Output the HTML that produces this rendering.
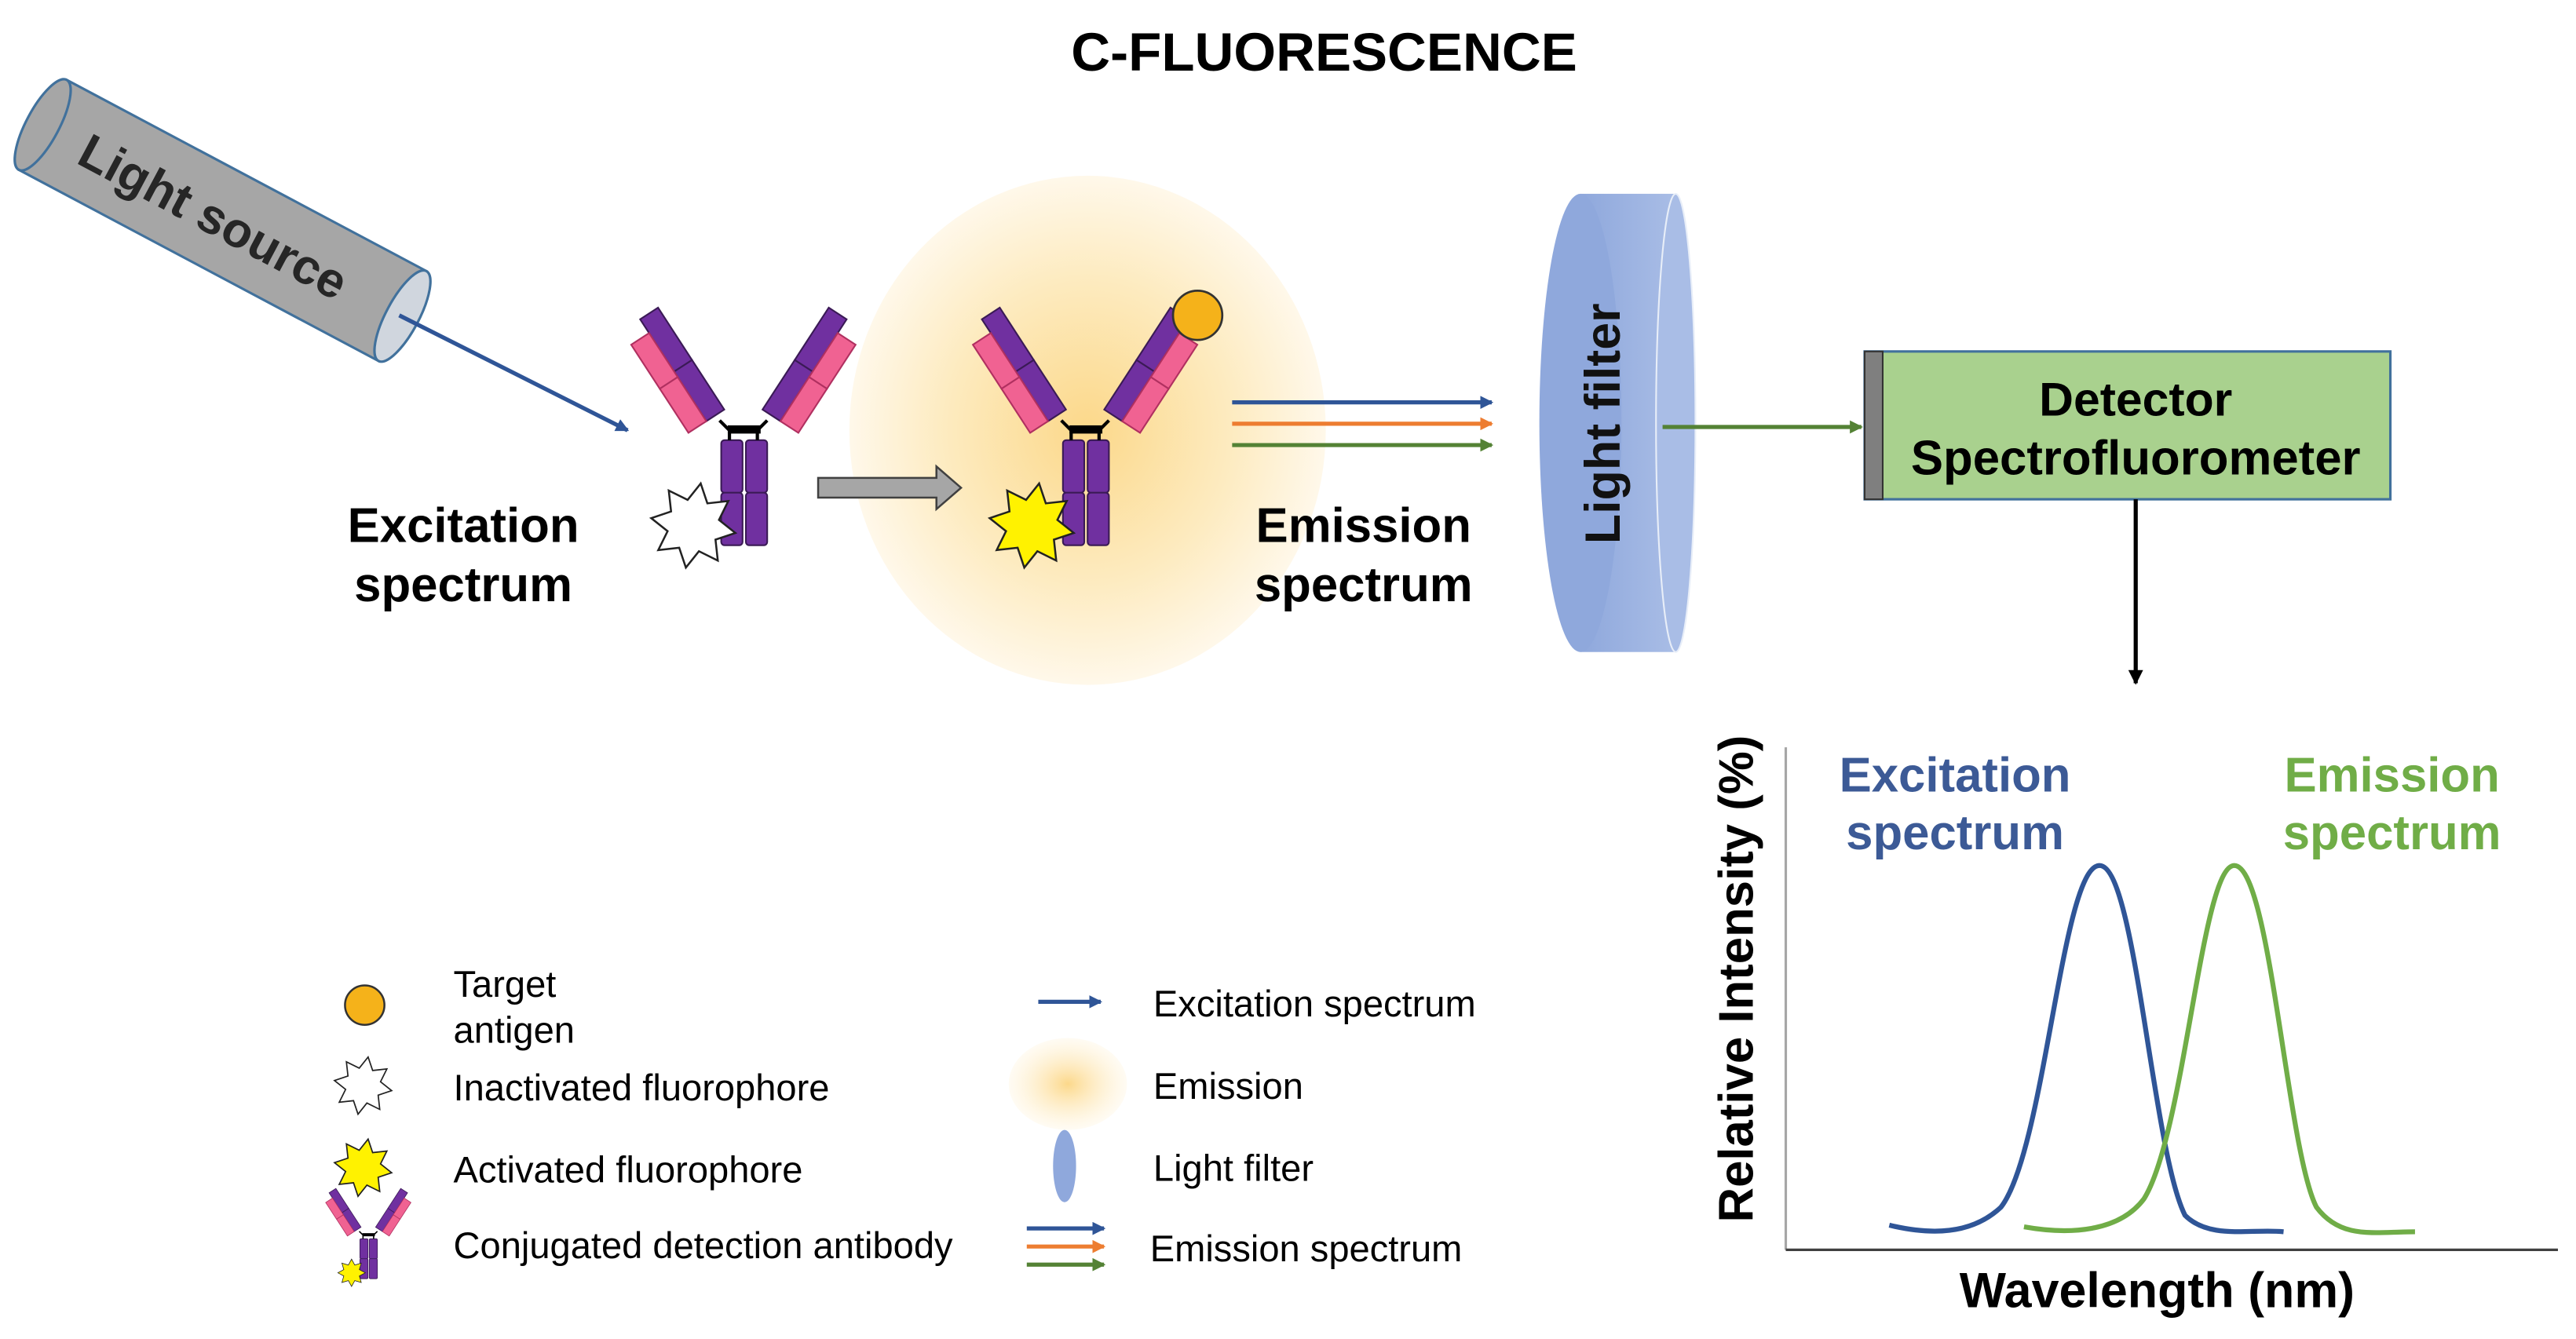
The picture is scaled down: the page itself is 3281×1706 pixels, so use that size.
<!DOCTYPE html>
<html><head><meta charset="utf-8"><style>html,body{margin:0;padding:0;background:#fff}svg{display:block}text{font-family:"Liberation Sans",Arial,sans-serif}</style></head>
<body>
<svg width="3281" height="1706" viewBox="0 0 1568 815.3" xmlns="http://www.w3.org/2000/svg">
<defs>
<radialGradient id="glow" cx="0.5" cy="0.5" r="0.5">
<stop offset="0" stop-color="#fcd88a"/><stop offset="0.6" stop-color="#fdebc0"/><stop offset="1" stop-color="#fff8ea"/>
</radialGradient>
<radialGradient id="glow2" cx="0.5" cy="0.5" r="0.5">
<stop offset="0" stop-color="#fcd88a"/><stop offset="1" stop-color="#fff3d8" stop-opacity="0.3"/>
</radialGradient>
<linearGradient id="filt" x1="0" y1="0" x2="1" y2="0">
<stop offset="0" stop-color="#8fa8dc"/><stop offset="1" stop-color="#a9bde6"/>
</linearGradient>
<marker id="ab" markerWidth="8" markerHeight="8" refX="7" refY="4" orient="auto" markerUnits="userSpaceOnUse"><path d="M0,0 L8,4 L0,8z" fill="#2f5597"/></marker>
<marker id="ao" markerWidth="8" markerHeight="8" refX="7" refY="4" orient="auto" markerUnits="userSpaceOnUse"><path d="M0,0 L8,4 L0,8z" fill="#ed7d31"/></marker>
<marker id="ag" markerWidth="8" markerHeight="8" refX="7" refY="4" orient="auto" markerUnits="userSpaceOnUse"><path d="M0,0 L8,4 L0,8z" fill="#548235"/></marker>
<marker id="ak" markerWidth="9" markerHeight="9" refX="8" refY="4.5" orient="auto" markerUnits="userSpaceOnUse"><path d="M0,0 L9,4.5 L0,9z" fill="#000"/></marker>
<g id="arm">
<rect x="-7" y="-78" width="13" height="38" fill="#7030a0" stroke="#3a1a55" stroke-width="1"/>
<rect x="-7" y="-40" width="13" height="36" fill="#7030a0" stroke="#3a1a55" stroke-width="1"/>
<rect x="-20" y="-68" width="13" height="32" fill="#f06292" stroke="#b03060" stroke-width="1"/>
<rect x="-20" y="-36" width="13" height="32" fill="#f06292" stroke="#b03060" stroke-width="1"/>
</g>
<g id="ab1">
<rect x="-13" y="6" width="13" height="32" rx="2" fill="#7030a0" stroke="#3a1a55"/>
<rect x="-13" y="38" width="13" height="32" rx="2" fill="#7030a0" stroke="#3a1a55"/>
<rect x="2" y="6" width="13" height="32" rx="2" fill="#7030a0" stroke="#3a1a55"/>
<rect x="2" y="38" width="13" height="32" rx="2" fill="#7030a0" stroke="#3a1a55"/>
<rect x="-9" y="-3" width="20" height="5" fill="#000"/>
<path d="M-8,6 L-8,0 L-14,-6 M9,6 L9,0 L15,-6" stroke="#000" stroke-width="2" fill="none"/>
<use href="#arm" transform="translate(-14,-6) rotate(-33)"/>
<use href="#arm" transform="translate(15,-6) scale(-1,1) rotate(-33)"/>
</g>
<polygon id="star" points="26,0 14.8,6.1 18.4,18.4 6.1,14.8 0,26 -6.1,14.8 -18.4,18.4 -14.8,6.1 -26,0 -14.8,-6.1 -18.4,-18.4 -6.1,-14.8 0,-26 6.1,-14.8 18.4,-18.4 14.8,-6.1" stroke="#222" stroke-width="1.2"/>
</defs>

<text x="806" y="43" font-size="33" font-weight="bold" text-anchor="middle">C-FLUORESCENCE</text>

<g transform="translate(26,76) rotate(28)">
<rect x="0" y="-31" width="248" height="62" fill="#a6a6a6" stroke="#41719c" stroke-width="1.5"/>
<ellipse cx="0" cy="0" rx="10" ry="31" fill="#a6a6a6" stroke="#41719c" stroke-width="1.5"/>
<ellipse cx="248" cy="0" rx="10" ry="31" fill="#d0d6de" stroke="#41719c" stroke-width="1.5"/>
<text x="118" y="11" font-size="30" font-weight="bold" fill="#262626" text-anchor="middle">Light source</text>
</g>
<line x1="243" y1="192" x2="382" y2="262" stroke="#2f5597" stroke-width="2.5" marker-end="url(#ab)"/>

<ellipse cx="662" cy="262" rx="145" ry="155" fill="url(#glow)"/>

<use href="#ab1" transform="translate(452,262)"/>
<use href="#star" fill="#fff" transform="translate(422,320) rotate(10)"/>
<text x="282" y="330" font-size="29.5" font-weight="bold" text-anchor="middle">Excitation</text>
<text x="282" y="366" font-size="29.5" font-weight="bold" text-anchor="middle">spectrum</text>

<path d="M498,291 L570,291 L570,284 L585,297 L570,310 L570,303 L498,303 Z" fill="#a6a6a6" stroke="#404040" stroke-width="1.2"/>

<use href="#ab1" transform="translate(660,262)"/>
<circle cx="729" cy="192" r="15" fill="#f5b21a" stroke="#333" stroke-width="1.3"/>
<use href="#star" fill="#fff200" transform="translate(628,320) rotate(10)"/>

<line x1="750" y1="245" x2="908" y2="245" stroke="#2f5597" stroke-width="2.5" marker-end="url(#ab)"/>
<line x1="750" y1="258" x2="908" y2="258" stroke="#ed7d31" stroke-width="2.5" marker-end="url(#ao)"/>
<line x1="750" y1="271" x2="908" y2="271" stroke="#548235" stroke-width="2.5" marker-end="url(#ag)"/>
<text x="830" y="330" font-size="29.5" font-weight="bold" text-anchor="middle">Emission</text>
<text x="830" y="366" font-size="29.5" font-weight="bold" text-anchor="middle">spectrum</text>

<rect x="962" y="118" width="58" height="279" fill="url(#filt)"/>
<ellipse cx="962" cy="257.5" rx="25" ry="139.5" fill="#8fa8dc"/>
<ellipse cx="1020" cy="257.5" rx="12" ry="139.5" fill="#a9bde6" stroke="#e8eef8" stroke-width="1"/>
<text transform="translate(986,258) rotate(-90)" font-size="30" font-weight="bold" text-anchor="middle" fill="#111">Light filter</text>
<line x1="1012" y1="260" x2="1133" y2="260" stroke="#548235" stroke-width="2.5" marker-end="url(#ag)"/>

<rect x="1135" y="214" width="320" height="90" fill="#a9d18e" stroke="#41719c" stroke-width="1.5"/>
<rect x="1135" y="214" width="11" height="90" fill="#7f7f7f" stroke="#333" stroke-width="1"/>
<text x="1300" y="253" font-size="29" font-weight="bold" text-anchor="middle">Detector</text>
<text x="1300" y="289" font-size="29.5" font-weight="bold" text-anchor="middle">Spectrofluorometer</text>
<line x1="1300" y1="304" x2="1300" y2="416" stroke="#000" stroke-width="2.5" marker-end="url(#ak)"/>

<line x1="1087" y1="455" x2="1087" y2="761" stroke="#a6a6a6" stroke-width="1.5"/>
<line x1="1087" y1="761" x2="1557" y2="761" stroke="#404040" stroke-width="1.5"/>
<text transform="translate(1067,596) rotate(-90)" font-size="29.5" font-weight="bold" text-anchor="middle">Relative Intensity (%)</text>
<text x="1313" y="796" font-size="30" font-weight="bold" text-anchor="middle">Wavelength (nm)</text>
<text x="1190" y="482" font-size="29.5" font-weight="bold" fill="#3c5a96" text-anchor="middle">Excitation</text>
<text x="1190" y="517" font-size="29.5" font-weight="bold" fill="#3c5a96" text-anchor="middle">spectrum</text>
<text x="1456" y="482" font-size="29.5" font-weight="bold" fill="#70ad47" text-anchor="middle">Emission</text>
<text x="1456" y="517" font-size="29.5" font-weight="bold" fill="#70ad47" text-anchor="middle">spectrum</text>
<path d="M1150,746 C1175,752 1200,752 1218,735 C1245,700 1255,527 1278,527 C1300,527 1310,700 1330,740 C1345,755 1370,748 1390,750" fill="none" stroke="#2f5597" stroke-width="3"/>
<path d="M1232,747 C1260,752 1290,750 1305,730 C1330,690 1340,527 1360,527 C1382,527 1392,700 1410,735 C1425,755 1445,750 1470,750" fill="none" stroke="#70ad47" stroke-width="3"/>

<circle cx="222" cy="612" r="12" fill="#f5b21a" stroke="#333" stroke-width="1.2"/>
<text x="276" y="607" font-size="22.5">Target</text>
<text x="276" y="635" font-size="22.5">antigen</text>
<use href="#star" fill="#fff" transform="translate(221,661) scale(0.68) rotate(10)"/>
<text x="276" y="670" font-size="22.5">Inactivated fluorophore</text>
<use href="#star" fill="#fff200" transform="translate(221,711) scale(0.68) rotate(10)"/>
<text x="276" y="720" font-size="22.5">Activated fluorophore</text>
<use href="#ab1" transform="translate(224,752) scale(0.38)"/>
<use href="#star" fill="#fff200" transform="translate(214,775) scale(0.32)"/>
<text x="276" y="766" font-size="22.5">Conjugated detection antibody</text>

<line x1="632" y1="610" x2="670" y2="610" stroke="#2f5597" stroke-width="2.5" marker-end="url(#ab)"/>
<text x="702" y="619" font-size="22.5">Excitation spectrum</text>
<ellipse cx="650" cy="660" rx="36" ry="28" fill="url(#glow2)"/>
<text x="702" y="669" font-size="22.5">Emission</text>
<ellipse cx="648" cy="710" rx="7" ry="22" fill="#8fa8dc"/>
<text x="702" y="719" font-size="22.5">Light filter</text>
<line x1="625" y1="748" x2="672" y2="748" stroke="#2f5597" stroke-width="2.5" marker-end="url(#ab)"/>
<line x1="625" y1="759" x2="672" y2="759" stroke="#ed7d31" stroke-width="2.5" marker-end="url(#ao)"/>
<line x1="625" y1="770" x2="672" y2="770" stroke="#548235" stroke-width="2.5" marker-end="url(#ag)"/>
<text x="700" y="768" font-size="22.5">Emission spectrum</text>
</svg>
</body></html>
